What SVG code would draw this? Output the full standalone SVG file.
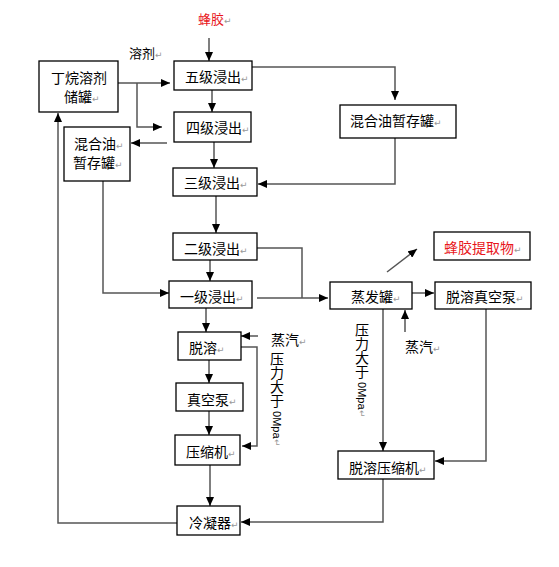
<svg xmlns="http://www.w3.org/2000/svg" width="559" height="567" viewBox="0 0 559 567">
<style>
.box{fill:#fff;stroke:#000;stroke-width:1.3}
.t{font-family:"Noto Sans CJK SC","Noto Sans",sans-serif;font-size:14px;fill:#000}
.red{fill:#e8161b}
.pm{font-family:"DejaVu Sans",sans-serif;font-size:9px;fill:#999}
.c{fill:none;stroke:#555;stroke-width:1.5}
.vt{font-family:"Noto Sans CJK SC","Noto Sans",sans-serif;font-size:14px;fill:#000;writing-mode:vertical-rl;text-orientation:mixed}
.sm{font-family:"Liberation Sans",sans-serif;font-size:11px}
</style>
<defs>
<marker id="ah" markerUnits="userSpaceOnUse" markerWidth="9" markerHeight="8" refX="9" refY="4" orient="auto">
<path d="M0,0 L9,4 L0,8 z" fill="#000"/>
</marker>
</defs>
<g id="connectors" class="c">
<path d="M209,38 V61" marker-end="url(#ah)"/>
<path d="M118,83 H170" marker-end="url(#ah)"/>
<path d="M137,83 V127 H162" marker-end="url(#ah)"/>
<path d="M212,90 V112" marker-end="url(#ah)"/>
<path d="M167,143 H131" marker-end="url(#ah)"/>
<path d="M214,142 V168" marker-end="url(#ah)"/>
<path d="M252,67 H395 V100" marker-end="url(#ah)"/>
<path d="M395,138 V184 H258" marker-end="url(#ah)"/>
<path d="M216,196 V233" marker-end="url(#ah)"/>
<path d="M257,248 H302 V298"/>
<path d="M257,298 H328" marker-end="url(#ah)"/>
<path d="M210,260 V281" marker-end="url(#ah)"/>
<path d="M103,181 V293 H169" marker-end="url(#ah)"/>
<path d="M206,308 V332" marker-end="url(#ah)"/>
<path d="M258,336 H241" marker-end="url(#ah)"/>
<path d="M241,347 H257 V446 H242" marker-end="url(#ah)"/>
<path d="M209,360 V383" marker-end="url(#ah)"/>
<path d="M209,411 V435" marker-end="url(#ah)"/>
<path d="M210,465 V506" marker-end="url(#ah)"/>
<path d="M177,523 H58 V113" marker-end="url(#ah)"/>
<path d="M387,272 L417,249" marker-end="url(#ah)"/>
<path d="M412,293 H434" marker-end="url(#ah)"/>
<path d="M405,332 V310" marker-end="url(#ah)"/>
<path d="M383,309 V451" marker-end="url(#ah)"/>
<path d="M486,309 V461 H435" marker-end="url(#ah)"/>
<path d="M383,479 V522 H241" marker-end="url(#ah)"/>
</g>
<g id="label-fengjiao"><text class="t red" x="198" y="24" style="font-size:13px">蜂胶<tspan class="pm">↵</tspan></text></g>
<g id="label-rongji"><text class="t" x="129" y="58" style="font-size:13px">溶剂<tspan class="pm">↵</tspan></text></g>
<g id="n-butane"><rect class="box" x="39" y="61" width="79" height="51"/><text class="t" x="51" y="83">丁烷溶剂</text><text class="t" x="64" y="102">储罐<tspan class="pm">↵</tspan></text></g>
<g id="n-5"><rect class="box" x="174" y="61" width="78" height="29"/><text class="t" x="185" y="82">五级浸出<tspan class="pm">↵</tspan></text></g>
<g id="n-4"><rect class="box" x="174" y="112" width="77" height="30"/><text class="t" x="186" y="133">四级浸出<tspan class="pm">↵</tspan></text></g>
<g id="n-mix-left"><rect class="box" x="64" y="127" width="66" height="54"/><text class="t" x="74" y="149">混合油<tspan class="pm">↵</tspan></text><text class="t" x="73" y="168">暂存罐<tspan class="pm">↵</tspan></text></g>
<g id="n-mix-right"><rect class="box" x="340" y="105" width="116" height="33"/><text class="t" x="350" y="126">混合油暂存罐<tspan class="pm">↵</tspan></text></g>
<g id="n-3"><rect class="box" x="173" y="168" width="84" height="28"/><text class="t" x="184" y="188">三级浸出<tspan class="pm">↵</tspan></text></g>
<g id="n-2"><rect class="box" x="173" y="233" width="84" height="27"/><text class="t" x="184" y="254">二级浸出<tspan class="pm">↵</tspan></text></g>
<g id="n-1"><rect class="box" x="169" y="281" width="83" height="27"/><text class="t" x="180" y="302">一级浸出<tspan class="pm">↵</tspan></text></g>
<g id="n-tuorong"><rect class="box" x="178" y="332" width="63" height="28"/><text class="t" x="189" y="353">脱溶<tspan class="pm">↵</tspan></text></g>
<g id="n-vacuum"><rect class="box" x="176" y="383" width="67" height="28"/><text class="t" x="187" y="405">真空泵<tspan class="pm">↵</tspan></text></g>
<g id="n-compressor"><rect class="box" x="175" y="435" width="65" height="30"/><text class="t" x="186" y="457">压缩机<tspan class="pm">↵</tspan></text></g>
<g id="n-condenser"><rect class="box" x="177" y="506" width="63" height="29"/><text class="t" x="189" y="528">冷凝器<tspan class="pm">↵</tspan></text></g>
<g id="n-evap"><rect class="box" x="330" y="282" width="82" height="27"/><text class="t" x="351" y="302">蒸发罐<tspan class="pm">↵</tspan></text></g>
<g id="n-tuorong-vac"><rect class="box" x="435" y="282" width="96" height="27"/><text class="t" x="446" y="302">脱溶真空泵<tspan class="pm">↵</tspan></text></g>
<g id="n-extract"><rect class="box" x="434" y="232" width="96" height="28"/><text class="t red" x="444" y="253">蜂胶提取物<tspan class="pm">↵</tspan></text></g>
<g id="n-tuorong-comp"><rect class="box" x="338" y="451" width="96" height="28"/><text class="t" x="349" y="473">脱溶压缩机<tspan class="pm">↵</tspan></text></g>
<g id="label-steam-left"><text class="t" x="271" y="345">蒸汽<tspan class="pm">↵</tspan></text></g>
<g id="label-steam-right"><text class="t" x="405" y="352">蒸汽<tspan class="pm">↵</tspan></text></g>
<g id="label-pressure-left"><text class="vt" x="277" y="352">压力大于<tspan class="sm"> 0Mpa</tspan><tspan class="pm">↵</tspan></text></g>
<g id="label-pressure-right"><text class="vt" x="362" y="323">压力大于<tspan class="sm"> 0Mpa</tspan><tspan class="pm">↵</tspan></text></g>
</svg>
